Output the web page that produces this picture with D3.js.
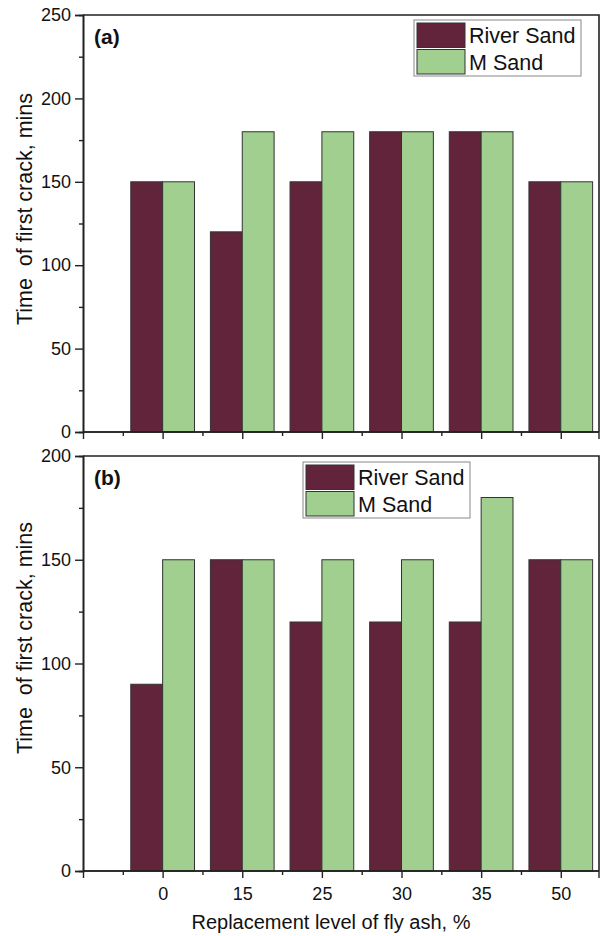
<!DOCTYPE html>
<html>
<head>
<meta charset="utf-8">
<script src="https://cdn.jsdelivr.net/npm/d3@7"></script>
<style>
  body { margin: 0; background: #fff; }
  text { font-family: "Liberation Sans", Arial, sans-serif; fill: #111; }
</style>
</head>
<body>
<svg id="chart" width="601" height="936"></svg>
<script>
// replacement level categories (x axis)
let categories = ["0", "15", "25", "30", "35", "50"];
let seriesNames = ["River Sand", "M Sand"];

// panel (a)
let riverSandA = [150, 120, 150, 180, 180, 150];
let mSandA = [150, 180, 180, 180, 180, 150];

// panel (b)
let riverSandB = [90, 150, 120, 120, 120, 150];
let mSandB = [150, 150, 150, 150, 180, 150];

let colors = ["#62243a", "#a0cf8f"];

let svg = d3.select("#chart");

function drawPanel(opt) {
    let g = svg.append("g");

    let x = d3.scaleLinear().domain([0, 6.48]).range([83, 599]);
    let y = d3.scaleLinear().domain([0, opt.yMax]).range([opt.bottom, opt.top]);

    // frame (top + right)
    g.append("path")
        .attr("d", `M83,${opt.top}H599V${opt.bottom}`)
        .attr("fill", "none").attr("stroke", "#222").attr("stroke-width", 1.6);

    // bars
    let barW = x(0.4) - x(0);
    [opt.river, opt.msand].forEach((vals, s) => {
        g.append("g").selectAll("rect")
            .data(vals)
            .join("rect")
            .attr("x", (d, i) => s === 0 ? x(i + 1) - barW : x(i + 1))
            .attr("y", d => y(d))
            .attr("width", barW)
            .attr("height", d => y(0) - y(d))
            .attr("fill", colors[s])
            .attr("stroke", "#333")
            .attr("stroke-width", 1);
    });

    // y axis: major ticks with labels, minor ticks between
    let yMajor = d3.range(0, opt.yMax + 1, 50);
    let yMinor = d3.range(25, opt.yMax, 50);
    let yAxis = g.append("g").attr("transform", "translate(83,0)")
        .call(d3.axisLeft(y).tickValues(yMajor).tickSize(8).tickPadding(4).tickFormat(d3.format("d")));
    yAxis.append("g").call(d3.axisLeft(y).tickValues(yMinor).tickSize(4).tickFormat(""));
    yAxis.selectAll(".domain").attr("stroke", "#222").attr("stroke-width", 1.6);
    yAxis.selectAll("line").attr("stroke", "#222").attr("stroke-width", 1.4);
    yAxis.selectAll("text").attr("font-size", 18).attr("fill", "#111");

    // x axis: major ticks at categories, minor ticks between
    let xAxis = g.append("g").attr("transform", `translate(0,${opt.bottom})`)
        .call(d3.axisBottom(x).tickValues([0, 1, 2, 3, 4, 5, 6]).tickSize(7).tickPadding(9)
            .tickFormat(d => d === 0 ? "" : (opt.showLabels ? categories[d - 1] : "")));
    xAxis.append("g").call(d3.axisBottom(x).tickValues([0.5, 1.5, 2.5, 3.5, 4.5, 5.5]).tickSize(4).tickFormat(""));
    xAxis.append("line").attr("x1", 599).attr("x2", 599).attr("y1", 0).attr("y2", 7)
        .attr("stroke", "#222").attr("stroke-width", 1.4);
    xAxis.selectAll(".domain").attr("d", "M83,0H599").attr("stroke", "#222").attr("stroke-width", 1.6);
    xAxis.selectAll("line").attr("stroke", "#222").attr("stroke-width", 1.4);
    xAxis.selectAll("text").attr("font-size", 18).attr("fill", "#111");

    // y title
    g.append("text")
        .attr("transform", `translate(32,${opt.titleY}) rotate(-90)`)
        .attr("text-anchor", "middle")
        .attr("font-size", 21.5)
        .attr("xml:space", "preserve")
        .style("white-space", "pre")
        .text("Time  of first crack, mins");

    // panel label
    g.append("text")
        .attr("x", 94).attr("y", opt.top + 29)
        .attr("font-size", 21).attr("font-weight", "bold")
        .text(opt.label);

    // legend
    let lg = g.append("g").attr("transform", `translate(${opt.legX},${opt.legY})`);
    lg.append("rect").attr("x", 0).attr("y", 0).attr("width", 167).attr("height", 56)
        .attr("fill", "#fff").attr("stroke", "#888").attr("stroke-width", 1);
    seriesNames.forEach((name, i) => {
        lg.append("rect").attr("x", 3).attr("y", 3 + i * 26.5).attr("width", 48).attr("height", 24.5)
            .attr("fill", colors[i]).attr("stroke", "#333").attr("stroke-width", 1);
        lg.append("text").attr("x", 55).attr("y", 23 + i * 26.5)
            .attr("font-size", 21.5).text(name);
    });
}

drawPanel({ top: 15, bottom: 432, yMax: 250, river: riverSandA, msand: mSandA,
    label: "(a)", legX: 414, legY: 20, titleY: 209, showLabels: false });
drawPanel({ top: 456, bottom: 871, yMax: 200, river: riverSandB, msand: mSandB,
    label: "(b)", legX: 303, legY: 462, titleY: 638, showLabels: true });

// x title
svg.append("text")
    .attr("x", 331).attr("y", 929)
    .attr("text-anchor", "middle")
    .attr("font-size", 20)
    .text("Replacement level of fly ash, %");
</script>
</body>
</html>
